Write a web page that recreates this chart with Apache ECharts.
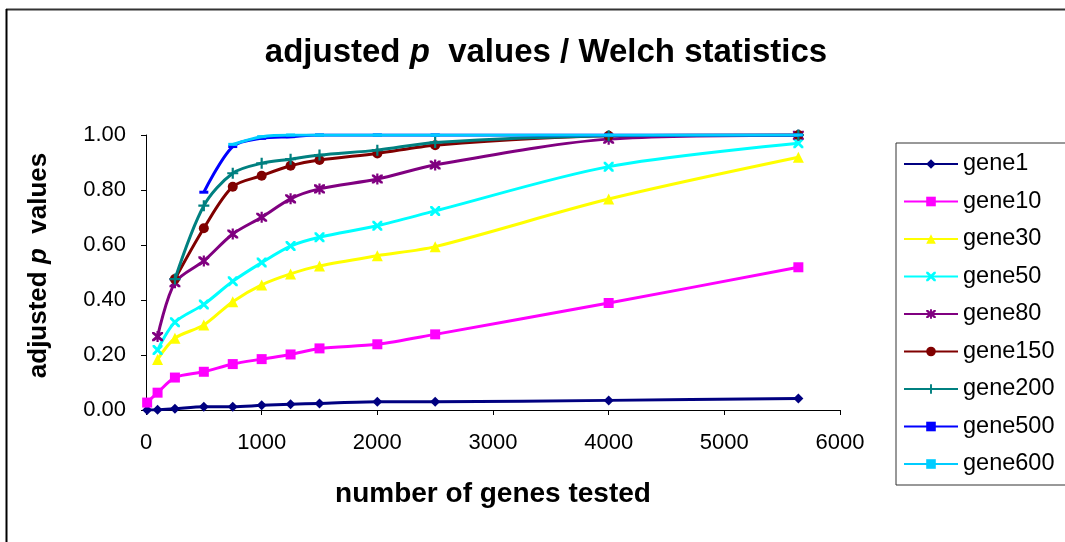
<!DOCTYPE html>
<html>
<head>
<meta charset="utf-8">
<script src="https://cdn.jsdelivr.net/npm/echarts@6/dist/echarts.min.js"></script>
<style>
html,body{margin:0;padding:0;background:#fff;}
#chart{width:1065px;height:542px;}
</style>
</head>
<body>
<div id="chart"></div>
<script>
// number of genes tested (x values)
var genesTested = [10, 100, 250, 500, 750, 1000, 1250, 1500, 2000, 2500, 4000, 5640];
var seriesNames = ['gene1', 'gene10', 'gene30', 'gene50', 'gene80', 'gene150', 'gene200', 'gene500', 'gene600'];
var gene1   = [0.000, 0.001, 0.005, 0.012, 0.012, 0.017, 0.021, 0.024, 0.030, 0.030, 0.035, 0.042];
var gene10  = [0.027, 0.063, 0.118, 0.139, 0.167, 0.185, 0.202, 0.224, 0.239, 0.275, 0.389, 0.519];
var gene30  = [null, 0.184, 0.261, 0.309, 0.394, 0.455, 0.495, 0.524, 0.561, 0.594, 0.767, 0.919];
var gene50  = [null, 0.218, 0.319, 0.384, 0.468, 0.536, 0.596, 0.628, 0.670, 0.724, 0.885, 0.970];
var gene80  = [null, 0.267, 0.463, 0.542, 0.640, 0.701, 0.768, 0.804, 0.840, 0.891, 0.985, 0.999];
var gene150 = [null, null, 0.476, 0.661, 0.812, 0.852, 0.888, 0.909, 0.933, 0.963, 0.997, 1.000];
var gene200 = [null, null, 0.476, 0.743, 0.861, 0.897, 0.912, 0.927, 0.945, 0.973, 0.997, 1.000];
var gene500 = [null, null, null, 0.792, 0.958, 0.988, 0.994, 1.000, 1.000, 1.000, 1.000, 1.000];
var gene600 = [null, null, null, null, 0.966, 0.994, 1.000, 1.000, 1.000, 1.000, 1.000, 1.000];
var xTicks = [0, 1000, 2000, 3000, 4000, 5000, 6000];
var yTicks = [0, 0.2, 0.4, 0.6, 0.8, 1.0];

var allValues = [gene1, gene10, gene30, gene50, gene80, gene150, gene200, gene500, gene600];
var colors = ['#000080', '#FF00FF', '#FFFF00', '#00FFFF', '#800080', '#800000', '#008080', '#0000FF', '#00CCFF'];
var xPath = 'path://M0,0 L2,0 L5,3 L8,0 L10,0 L10,2 L7,5 L10,8 L10,10 L8,10 L5,7 L2,10 L0,10 L0,8 L3,5 L0,2Z';
var starPath = 'path://M0,0 L2,0 L5,3 L8,0 L10,0 L10,2 L7,5 L10,8 L10,10 L8,10 L5,7 L2,10 L0,10 L0,8 L3,5 L0,2Z M4,-1 L6,-1 L6,11 L4,11Z';
var plusPath = 'path://M4,0 L6,0 L6,4 L10,4 L10,6 L6,6 L6,10 L4,10 L4,6 L0,6 L0,4 L4,4Z';
var dashPath = 'path://M0,0 L10,0 L10,3 L0,3Z';
var symbols = ['diamond', 'rect', 'triangle', xPath, starPath, 'circle', plusPath, dashPath, dashPath];
var sizes = [10, 10, 11, 10, 11, 10, 11, [9, 3], [9, 3]];

var series = seriesNames.map(function (name, i) {
  return {
    name: name,
    type: 'line',
    smooth: 0.3,
    data: genesTested.map(function (x, j) { return [x, allValues[i][j]]; }),
    symbol: symbols[i],
    symbolSize: sizes[i],
    showSymbol: true,
    lineStyle: { color: colors[i], width: 3 },
    itemStyle: { color: colors[i], borderWidth: 0 },
    z: 2 + i
  };
});

var chart = echarts.init(document.getElementById('chart'), null, { renderer: 'canvas' });
chart.setOption({
  animation: false,
  backgroundColor: '#ffffff',
  textStyle: { fontFamily: 'Liberation Sans, Arial, sans-serif' },
  title: {
    text: '{a|adjusted }{i|p}{a|  values / Welch statistics}',
    left: 541,
    top: 31,
    textAlign: 'center',
    textStyle: {
      rich: {
        a: { fontSize: 33, fontWeight: 'bold', color: '#000', fontFamily: 'Liberation Sans, Arial, sans-serif' },
        i: { fontSize: 33, fontWeight: 'bold', fontStyle: 'italic', color: '#000', fontFamily: 'Liberation Sans, Arial, sans-serif' }
      }
    }
  },
  grid: { left: 146, right: 225, top: 135, bottom: 132, containLabel: false },
  legend: {
    orient: 'vertical',
    left: 896,
    top: 143,
    padding: [9, 30, 9, 7],
    itemWidth: 54,
    itemHeight: 12,
    itemGap: 13.5,
    borderColor: '#333',
    borderWidth: 1,
    data: seriesNames,
    textStyle: { fontSize: 23.5, lineHeight: 22, color: '#000', fontFamily: 'Liberation Sans, Arial, sans-serif' }
  },
  xAxis: {
    type: 'value',
    min: 0, max: 6000, interval: 1000,
    name: 'number of genes tested',
    nameLocation: 'middle',
    nameGap: 70,
    nameTextStyle: { fontSize: 28, fontWeight: 'bold', color: '#000' },
    axisLine: { show: true, lineStyle: { color: '#000', width: 1 } },
    axisTick: { show: true, length: 5, lineStyle: { color: '#000' } },
    axisLabel: { fontSize: 22, color: '#000', margin: 22, formatter: function (v) { return xTicks.indexOf(v) >= 0 ? String(v) : ''; } },
    splitLine: { show: false }
  },
  yAxis: {
    type: 'value',
    min: 0, max: 1, interval: 0.2,
    name: '{b|adjusted }{i|p}{b|  values}',
    nameLocation: 'middle',
    nameGap: 94,
    nameRotate: 90,
    nameTextStyle: {
      padding: [0, 0, 0, 14],
      rich: {
        b: { fontSize: 26, fontWeight: 'bold', color: '#000', fontFamily: 'Liberation Sans, Arial, sans-serif' },
        i: { fontSize: 26, fontWeight: 'bold', fontStyle: 'italic', color: '#000', fontFamily: 'Liberation Sans, Arial, sans-serif' }
      }
    },
    axisLine: { show: true, lineStyle: { color: '#000', width: 1 } },
    axisTick: { show: true, length: 5, lineStyle: { color: '#000' } },
    axisLabel: { fontSize: 22, color: '#000', margin: 20, formatter: function (v) { return v.toFixed(2); } },
    splitLine: { show: false }
  },
  graphic: [
    { type: 'line', shape: { x1: 6, y1: 9.5, x2: 1065, y2: 9.5 }, style: { stroke: '#333', lineWidth: 2 }, silent: true },
    { type: 'line', shape: { x1: 6.5, y1: 9, x2: 6.5, y2: 542 }, style: { stroke: '#000', lineWidth: 2 }, silent: true }
  ],
  series: series
});
</script>
</body>
</html>
